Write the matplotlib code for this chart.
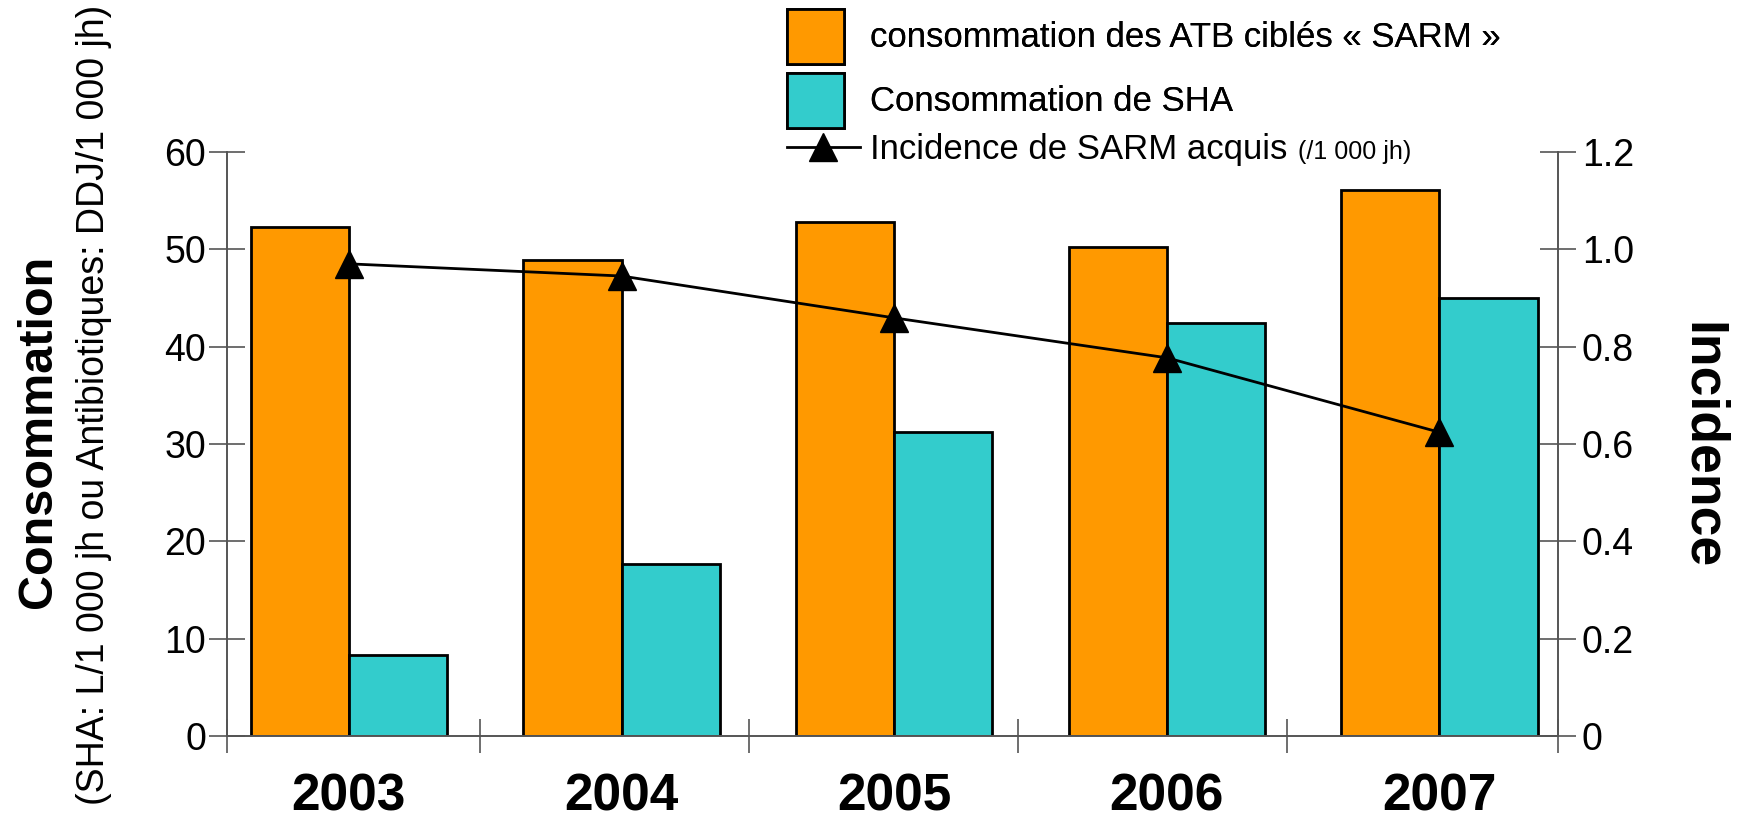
import matplotlib
matplotlib.use("Agg")
import matplotlib.pyplot as plt
from matplotlib.patches import Patch
from matplotlib.lines import Line2D
import numpy as np

plt.rcParams['font.family'] = ['Liberation Sans', 'DejaVu Sans']

# data
years = ['2003', '2004', '2005', '2006', '2007']
atb_sarm = [52.3, 48.9, 52.8, 50.2, 56.1]
sha = [8.3, 17.7, 31.2, 42.4, 45.0]
incidence = [0.970, 0.945, 0.859, 0.777, 0.624]

orange = '#FF9900'
cyan = '#33CCCC'
axis_grey = '#555555'

fig = plt.figure(figsize=(17.37, 8.21), dpi=100)
ax = fig.add_axes([0.1307, 0.1035, 0.897 - 0.1307, 0.815 - 0.1035])
ax2 = ax.twinx()

x = np.arange(len(years))
w = 0.36
ax.bar(x - w / 2, atb_sarm, width=w, color=orange, edgecolor='black', linewidth=2, zorder=2)
ax.bar(x + w / 2, sha, width=w, color=cyan, edgecolor='black', linewidth=2, zorder=2)

ax2.plot(x, incidence, color='black', linewidth=2, marker='^', markersize=20, zorder=3)

x0, x1 = -0.447, len(years) - 0.565
ax.set_xlim(x0, x1)
ax.set_ylim(0, 60)
ax2.set_ylim(0, 1.2)

# left axis
ax.set_yticks(np.arange(0, 61, 10))
ax.tick_params(axis='y', direction='inout', length=26, width=1.2, color=axis_grey,
               labelsize=27, pad=2)
# x axis: labels at centres, small ticks at category boundaries
ax.set_xticks(x)
ax.set_xticklabels(years, fontsize=37, fontweight='bold')
ax.tick_params(axis='x', which='major', length=0, pad=26)
ax.set_xticks([x0] + list(np.arange(0.48, len(years) - 1, 0.987)) + [x1], minor=True)
ax.tick_params(axis='x', which='minor', direction='inout', length=24, width=1.2, color=axis_grey)

# right axis
ax2.set_yticks(np.arange(0, 1.21, 0.2))
ax2.set_yticklabels(['0', '0.2', '0.4', '0.6', '0.8', '1.0', '1.2'])
ax2.tick_params(axis='y', direction='inout', length=26, width=1.2, color=axis_grey,
                labelsize=27, pad=4)

for a in (ax, ax2):
    a.spines['top'].set_visible(False)
    for s in ('left', 'right', 'bottom'):
        a.spines[s].set_color(axis_grey)
        a.spines[s].set_linewidth(1.2)

# axis titles
fig.text(0.022, 0.475, 'Consommation', rotation=90, fontsize=35, fontweight='bold',
         ha='center', va='center')
fig.text(0.054, 0.507, '(SHA: L/1 000 jh ou Antibiotiques: DDJ/1 000 jh)', rotation=90,
         fontsize=27, ha='center', va='center')
fig.text(0.980, 0.457, 'Incidence', rotation=270, fontsize=38.5, fontweight='bold',
         ha='center', va='center')

# legend above the plot: two boxes, then the line entry a bit closer
bar_handles = [
    Patch(facecolor=orange, edgecolor='black', linewidth=2),
    Patch(facecolor=cyan, edgecolor='black', linewidth=2),
]
bar_labels = ['consommation des ATB ciblés « SARM »', 'Consommation de SHA']
leg1 = fig.legend(bar_handles, bar_labels, loc='upper left',
                  bbox_to_anchor=(787 / 1737, 1 - 9 / 821),
                  frameon=False, fontsize=25, handlelength=1.63, handleheight=2.05,
                  handletextpad=0.75, labelspacing=0.26, borderpad=0, borderaxespad=0)
fig.add_artist(leg1)

line_handle = [Line2D([0], [0], color='black', linewidth=2, marker='^', markersize=20)]
leg2 = fig.legend(line_handle, ['Incidence de SARM acquis'], loc='center left',
                  bbox_to_anchor=(787 / 1737, 1 - 150 / 821),
                  frameon=False, fontsize=25, handlelength=2.1, handletextpad=0.3,
                  borderpad=0, borderaxespad=0, numpoints=1)

fig.canvas.draw()
renderer = fig.canvas.get_renderer()
bb = leg2.get_texts()[0].get_window_extent(renderer).transformed(fig.transFigure.inverted())
fig.text(bb.x1 + 0.006, bb.y0 + 0.003, '(/1 000 jh)', fontsize=18, ha='left', va='bottom')

fig.savefig('out.png', dpi=100)
